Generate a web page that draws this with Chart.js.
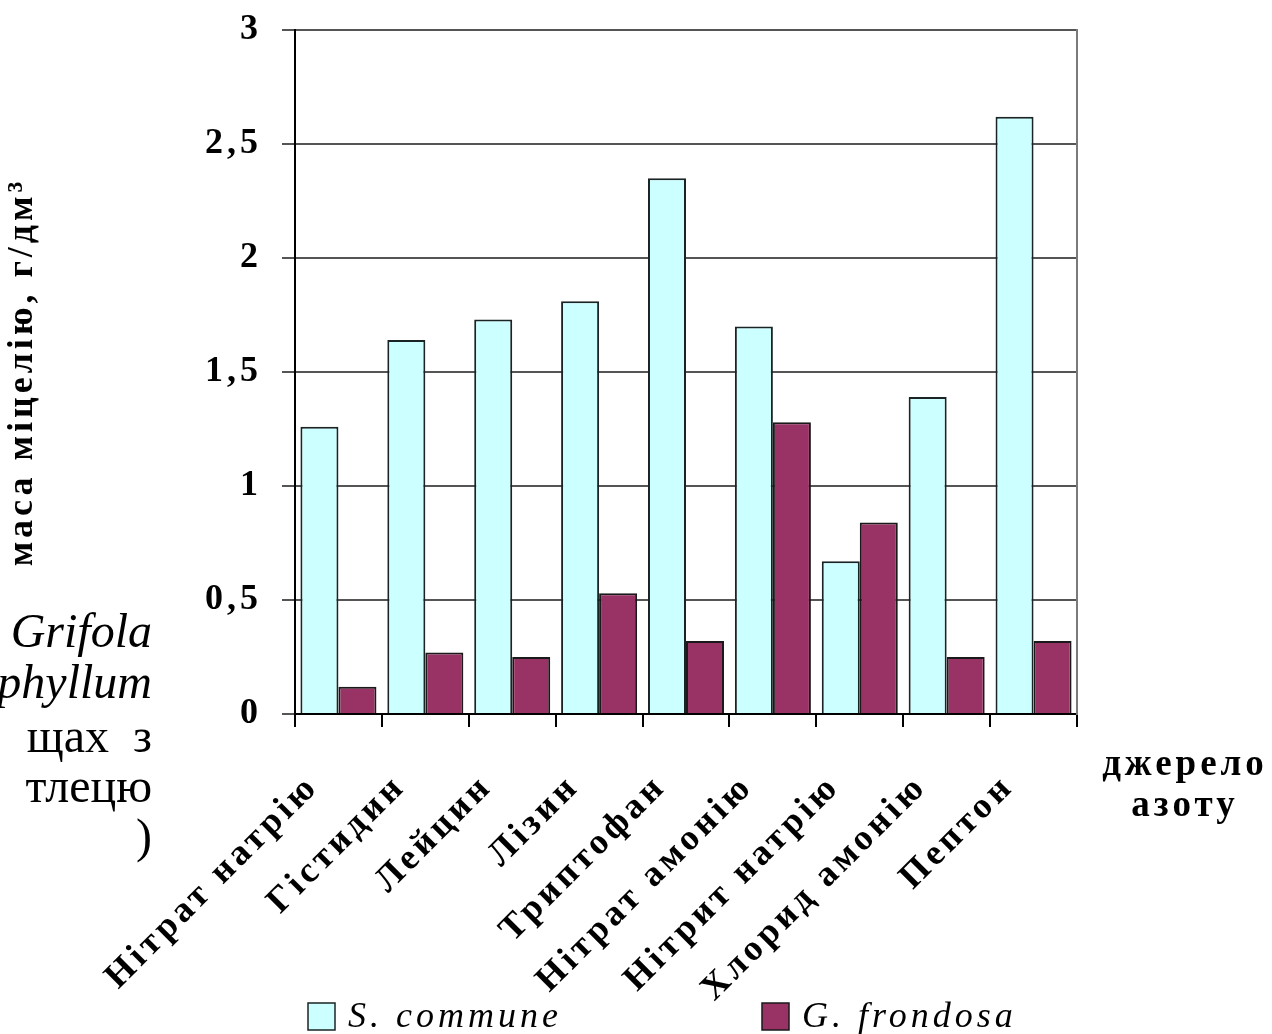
<!DOCTYPE html>
<html lang="uk">
<head>
<meta charset="utf-8">
<title>Маса міцелію залежно від джерела азоту</title>
<script src="https://cdn.jsdelivr.net/npm/chart.js@4.4.1/dist/chart.umd.min.js"></script>
<style>
    html, body { margin: 0; padding: 0; background: #fff; }
    #canvas { display: block; }
</style>
</head>
<body>
<canvas id="canvas" width="1272" height="1034"></canvas>
<script>
const categories = ['Нітрат натрію', 'Гістидин', 'Лейцин', 'Лізин', 'Триптофан',
    'Нітрат амонію', 'Нітрит натрію', 'Хлорид амонію', 'Пептон'];
const communeValues = [1.26, 1.64, 1.73, 1.81, 2.35, 1.70, 0.67, 1.39, 2.62];
const frondosaValues = [0.12, 0.27, 0.25, 0.53, 0.32, 1.28, 0.84, 0.25, 0.32];
const seriesNames = ['S. commune', 'G. frondosa'];
const yTickLabels = ['0', '0,5', '1', '1,5', '2', '2,5', '3'];
const yAxisTitle = 'маса міцелію, г/дм³';
const xAxisTitle = ['джерело', 'азоту'];
const sideLines = ['Grifola', 'phyllum', 'щах  з', 'тлецю', ')'];

const SERIF = "'Liberation Serif', 'Times New Roman', serif";

Chart.defaults.font.family = SERIF;
Chart.defaults.color = '#000';

// the text in this figure is set loosely, so widen every glyph run a little
const spacingPlugin = {
    id: 'spacing',
    beforeUpdate(chart) { chart.ctx.letterSpacing = '4px'; },
    beforeDraw(chart) { chart.ctx.letterSpacing = '4px'; }
};

// legend, x axis caption and the text beside the figure
const extrasPlugin = {
    id: 'extras',
    afterDraw(chart) {
        const ctx = chart.ctx;
        ctx.save();

        // legend
        const boxX = [308, 762];
        chart.data.datasets.forEach((ds, i) => {
            ctx.fillStyle = ds.backgroundColor;
            ctx.fillRect(boxX[i], 1003, 27, 27);
            ctx.strokeStyle = ds.borderColor;
            ctx.lineWidth = 1.5;
            ctx.strokeRect(boxX[i], 1003, 27, 27);
            ctx.fillStyle = '#000';
            ctx.font = 'italic 36px ' + SERIF;
            ctx.textAlign = 'left';
            ctx.textBaseline = 'alphabetic';
            ctx.fillText(ds.label, boxX[i] + 40, 1027);
        });

        // x axis caption on the right
        ctx.font = 'bold 37px ' + SERIF;
        ctx.textAlign = 'center';
        ctx.fillText(xAxisTitle[0], 1185, 775);
        ctx.fillText(xAxisTitle[1], 1185, 816);

        // surrounding text
        ctx.letterSpacing = '0px';
        ctx.textAlign = 'right';
        const baselines = [647, 698, 752, 802, 852];
        sideLines.forEach((line, i) => {
            ctx.font = (i < 2 ? 'italic ' : '') + '48px ' + SERIF;
            ctx.fillText(line, 152, baselines[i]);
        });

        ctx.restore();
    }
};

const ctx = document.getElementById('canvas').getContext('2d');
const chart = new Chart(ctx, {
    type: 'bar',
    data: {
        labels: categories,
        datasets: [{
            label: seriesNames[0],
            data: communeValues,
            backgroundColor: '#ccffff',
            borderColor: '#1a2424',
            borderWidth: 2,
            barPercentage: 1,
            categoryPercentage: 0.875,
            yAxisID: 'y',
        }, {
            label: seriesNames[1],
            data: frondosaValues,
            backgroundColor: '#993366',
            borderColor: '#1a1a1a',
            borderWidth: 2,
            barPercentage: 1,
            categoryPercentage: 0.875,
            yAxisID: 'y',
        }]
    },
    options: {
        responsive: false,
        animation: false,
        layout: {
            padding: { left: 0, top: 30, right: 195, bottom: 0 }
        },
        plugins: {
            legend: { display: false },
            tooltip: { enabled: false },
        },
        scales: {
            x: {
                grid: {
                    offset: true,
                    drawOnChartArea: false,
                    drawTicks: true,
                    tickLength: 13,
                    color: '#000',
                    lineWidth: 2,
                },
                border: { color: '#000', width: 2 },
                ticks: {
                    autoSkip: false,
                    minRotation: 45,
                    maxRotation: 45,
                    padding: 39,
                    labelOffset: -25,
                    font: { size: 36, weight: 'bold' },
                },
                afterFit(scale) { scale.height = 320; }
            },
            y: {
                min: 0,
                max: 3,
                ticks: {
                    stepSize: 0.5,
                    padding: 20,
                    font: { size: 36, weight: 'bold' },
                    callback: (value, index) => yTickLabels[index],
                },
                grid: { color: '#555', lineWidth: 2, tickLength: 13 },
                border: { color: '#000', width: 2 },
                title: {
                    display: true,
                    text: yAxisTitle,
                    font: { size: 36, weight: 'bold' },
                    padding: { top: 1, bottom: 0 },
                },
                afterFit(scale) {
                    scale.width = 295;
                    scale.paddingTop = 0;
                    scale.paddingBottom = 0;
                }
            },
            yRight: {
                position: 'right',
                grid: { display: false },
                ticks: { display: false },
                border: { display: true, color: '#7a7a7a', width: 2 },
                afterFit(scale) { scale.width = 0; }
            }
        }
    },
    plugins: [spacingPlugin, extrasPlugin]
});
</script>
</body>
</html>
